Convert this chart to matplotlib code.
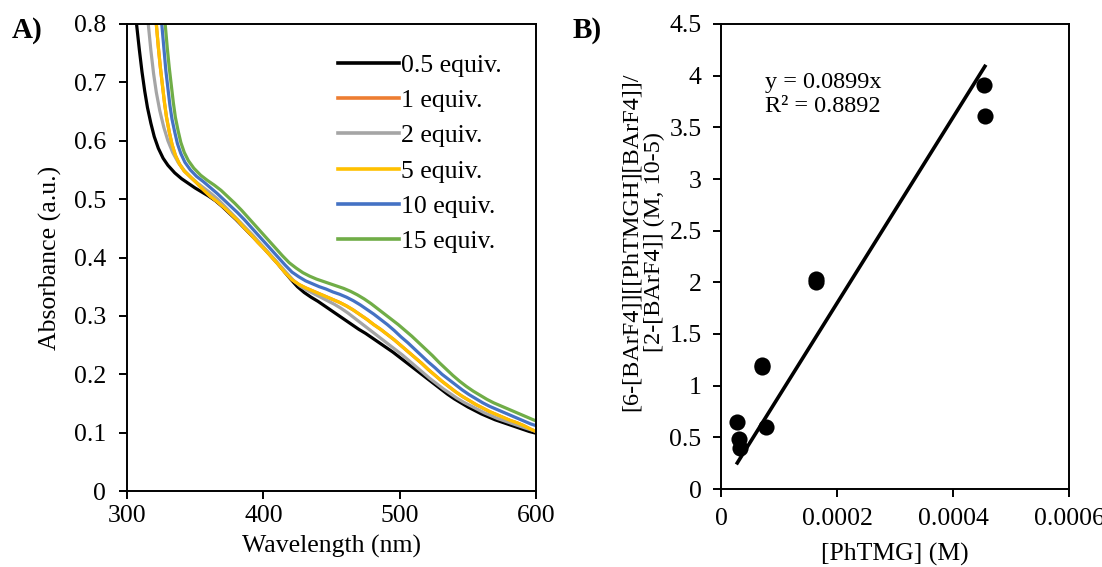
import matplotlib
matplotlib.use("Agg")
import matplotlib.pyplot as plt
import numpy as np
from matplotlib.ticker import FuncFormatter, MultipleLocator

plt.rcParams['font.family'] = ['Liberation Serif', 'DejaVu Serif']

# ---------------- Panel A data (UV-Vis spectra) ----------------
series_labels = ["0.5 equiv.", "1 equiv.", "2 equiv.", "5 equiv.", "10 equiv.", "15 equiv."]
series_colors = ["#000000", "#ED7D31", "#A5A5A5", "#FFC000", "#4472C4", "#70AD47"]

wl_05 = [303, 305, 307, 309, 311, 313, 315, 317.5, 320, 323, 326.5, 330, 335, 340, 345, 350, 355,
         360, 365, 370, 375, 380, 385, 390, 395, 400, 405, 410, 415, 420, 425, 430, 435, 440, 445,
         450, 455, 460, 465, 470, 475, 480, 485, 490, 495, 500, 505, 510, 515, 520, 525, 530, 535,
         540, 545, 550, 555, 560, 565, 570, 575, 580, 585, 590, 595, 600]
abs_05 = [0.900, 0.845, 0.800, 0.757, 0.718, 0.685, 0.657, 0.630, 0.607, 0.587, 0.570, 0.558, 0.545,
          0.535, 0.527, 0.519, 0.512, 0.505, 0.497, 0.487, 0.476, 0.465, 0.453, 0.441, 0.429, 0.417,
          0.404, 0.391, 0.377, 0.363, 0.350, 0.340, 0.332, 0.325, 0.317, 0.309, 0.301, 0.293, 0.285,
          0.277, 0.270, 0.262, 0.254, 0.246, 0.238, 0.229, 0.220, 0.211, 0.202, 0.193, 0.184, 0.175,
          0.166, 0.158, 0.151, 0.144, 0.138, 0.132, 0.127, 0.122, 0.118, 0.114, 0.110, 0.106, 0.102,
          0.099]

wl_2 = [311.5, 313.5, 315.6, 317.5, 319.5, 321.5, 324, 327, 330, 333.5, 337.5, 342, 347, 352, 357,
        362, 367, 372, 377, 382, 387, 392, 397, 402, 407, 412, 417, 422, 427, 432, 437, 442, 447,
        452, 457, 462, 467, 472, 477, 482, 487, 492, 497, 502, 507, 512, 517, 522, 527, 532, 537,
        542, 547, 552, 557, 562, 567, 572, 577, 582, 587, 592, 596, 600]
abs_2 = [0.900, 0.850, 0.800, 0.755, 0.715, 0.683, 0.652, 0.623, 0.600, 0.580, 0.563, 0.549, 0.537,
         0.527, 0.518, 0.509, 0.499, 0.487, 0.475, 0.463, 0.451, 0.439, 0.426, 0.413, 0.400, 0.387,
         0.374, 0.361, 0.351, 0.344, 0.338, 0.332, 0.326, 0.320, 0.313, 0.305, 0.296, 0.287, 0.278,
         0.269, 0.260, 0.251, 0.242, 0.233, 0.223, 0.213, 0.203, 0.193, 0.184, 0.175, 0.167, 0.159,
         0.152, 0.146, 0.140, 0.134, 0.129, 0.124, 0.120, 0.116, 0.112, 0.108, 0.105, 0.102]

wl_5 = [318.5, 320, 321.5, 323, 324.5, 326, 327.5, 329, 331, 333, 335.5, 338.5, 342, 346.5, 351,
        356, 361, 366, 371, 376, 381, 386, 391, 396, 401, 406, 411, 416, 421, 426, 431, 436, 441,
        446, 451, 456, 461, 466, 471, 476, 481, 486, 491, 496, 501, 506, 511, 516, 521, 526, 531,
        536, 541, 546, 551, 556, 561, 566, 571, 576, 581, 586, 591, 596, 600]
abs_5 = [0.900, 0.850, 0.800, 0.760, 0.725, 0.695, 0.665, 0.640, 0.615, 0.594, 0.575, 0.560, 0.548,
         0.538, 0.528, 0.516, 0.505, 0.496, 0.486, 0.475, 0.464, 0.451, 0.439, 0.426, 0.414, 0.401,
         0.388, 0.374, 0.362, 0.354, 0.348, 0.343, 0.338, 0.333, 0.328, 0.323, 0.317, 0.310, 0.302,
         0.294, 0.285, 0.277, 0.268, 0.259, 0.249, 0.239, 0.229, 0.219, 0.208, 0.198, 0.188, 0.179,
         0.170, 0.162, 0.155, 0.148, 0.142, 0.136, 0.131, 0.126, 0.121, 0.117, 0.112, 0.106, 0.102]

# 1 equiv. lies under the 5 equiv. trace
wl_1 = [318.5, 320, 321.5, 323, 324.5, 326, 327.5, 329, 331, 333, 335.5, 338.5, 342, 346.5, 351,
        356, 361, 366, 371, 376, 381, 386, 391, 396, 401, 406, 411, 416, 421, 426, 431, 436, 441,
        446, 451, 456, 461, 466, 471, 476, 481, 486, 491, 496, 501, 506, 511, 516, 521, 526, 531,
        536, 541, 546, 551, 556, 561, 566, 571, 576, 581, 586, 591, 596, 600]
abs_1 = [0.900, 0.850, 0.800, 0.760, 0.725, 0.695, 0.665, 0.640, 0.615, 0.594, 0.575, 0.560, 0.548,
         0.538, 0.528, 0.516, 0.505, 0.496, 0.486, 0.475, 0.464, 0.451, 0.439, 0.426, 0.414, 0.401,
         0.388, 0.374, 0.362, 0.354, 0.348, 0.343, 0.338, 0.333, 0.328, 0.323, 0.317, 0.310, 0.302,
         0.294, 0.285, 0.277, 0.268, 0.259, 0.249, 0.239, 0.229, 0.219, 0.208, 0.198, 0.188, 0.179,
         0.170, 0.162, 0.155, 0.148, 0.142, 0.136, 0.131, 0.126, 0.121, 0.117, 0.112, 0.106, 0.102]

wl_10 = [322, 324, 325.5, 327, 328.5, 330, 331.5, 333, 335, 337, 339.5, 342.5, 346.5, 351, 356, 361,
         366, 371, 376, 381, 386, 391, 396, 401, 406, 411, 416, 421, 426, 431, 436, 441, 446, 451,
         456, 461, 466, 471, 476, 481, 486, 491, 496, 501, 506, 511, 516, 521, 526, 531, 536, 541,
         546, 551, 556, 561, 566, 571, 576, 581, 586, 591, 596, 600]
abs_10 = [0.920, 0.855, 0.800, 0.760, 0.720, 0.690, 0.660, 0.637, 0.615, 0.595, 0.578, 0.563, 0.550,
          0.539, 0.530, 0.520, 0.510, 0.499, 0.488, 0.477, 0.465, 0.452, 0.439, 0.426, 0.413, 0.400,
          0.387, 0.375, 0.367, 0.360, 0.355, 0.350, 0.346, 0.341, 0.337, 0.332, 0.326, 0.319, 0.311,
          0.303, 0.294, 0.285, 0.275, 0.264, 0.254, 0.243, 0.232, 0.221, 0.211, 0.200, 0.191, 0.182,
          0.173, 0.165, 0.158, 0.151, 0.145, 0.140, 0.135, 0.130, 0.125, 0.120, 0.115, 0.112]

wl_15 = [324.5, 326.5, 328, 329.5, 331, 332.5, 334, 335.5, 337.5, 339.5, 342, 345, 349, 354, 359, 364,
         369, 374, 379, 384, 389, 394, 399, 404, 409, 414, 419, 424, 429, 434, 439, 444, 449, 454,
         459, 464, 469, 474, 479, 484, 489, 494, 499, 504, 509, 514, 519, 524, 529, 534, 539, 544,
         549, 554, 559, 564, 569, 574, 579, 584, 589, 594, 600]
abs_15 = [0.920, 0.855, 0.800, 0.760, 0.725, 0.695, 0.665, 0.640, 0.617, 0.597, 0.580, 0.566, 0.553,
          0.541, 0.532, 0.524, 0.515, 0.504, 0.493, 0.481, 0.468, 0.455, 0.442, 0.429, 0.416, 0.403,
          0.391, 0.382, 0.374, 0.368, 0.363, 0.359, 0.355, 0.351, 0.347, 0.342, 0.336, 0.329, 0.321,
          0.312, 0.303, 0.294, 0.285, 0.275, 0.265, 0.254, 0.243, 0.232, 0.220, 0.209, 0.198, 0.188,
          0.179, 0.171, 0.164, 0.157, 0.151, 0.146, 0.141, 0.136, 0.131, 0.126, 0.120]

spectra = [(wl_05, abs_05), (wl_1, abs_1), (wl_2, abs_2), (wl_5, abs_5), (wl_10, abs_10), (wl_15, abs_15)]

# ---------------- Panel B data ----------------
phtmg_conc = [0.0000281, 0.0000310, 0.0000328, 0.0000776, 0.0000712, 0.0000712,
              0.000164, 0.000164, 0.000453, 0.000455]
ratio_vals = [0.65, 0.48, 0.40, 0.60, 1.18, 1.20, 2.00, 2.03, 3.91, 3.61]
fit_slope = 0.0899      # per 1e-5 M
fit_r2 = 0.8892
x_unit = 1e-5

FS = 18.5

fig = plt.figure(figsize=(11.02, 5.67), dpi=100)

# ---------- Panel A ----------
axA = fig.add_axes([127/1102, 1-491/567, (536-127)/1102, (491-24)/567])
for (wl, ab), c, lab in zip(spectra, series_colors, series_labels):
    axA.plot(wl, ab, color=c, lw=2.3, label=lab, solid_joinstyle='round')
axA.set_xlim(300, 600)
axA.set_ylim(0, 0.8)
axA.xaxis.set_major_locator(MultipleLocator(100))
axA.yaxis.set_major_locator(MultipleLocator(0.1))
axA.yaxis.set_major_formatter(FuncFormatter(lambda v, p: f"{v:.1f}" if v > 0 else "0"))
axA.tick_params(axis='y', direction='out', length=6, width=1.4, labelsize=FS, pad=9)
axA.tick_params(axis='x', direction='out', length=6, width=1.4, labelsize=FS, pad=4)
for s in axA.spines.values():
    s.set_linewidth(1.4)
axA.set_xlabel("Wavelength (nm)", fontsize=FS)
axA.set_ylabel("Absorbance (a.u.)", fontsize=FS)
axA.xaxis.set_label_coords(0.5, -0.095)
axA.yaxis.set_label_coords(-0.16, 0.5)
leg = axA.legend(loc='upper left', bbox_to_anchor=(0.515, 0.935), frameon=False, fontsize=FS,
                 handlelength=2.4, handletextpad=0.05, labelspacing=0.47, borderpad=0, borderaxespad=0)
for h in leg.get_lines():
    h.set_linewidth(2.6)

# ---------- Panel B ----------
axB = fig.add_axes([721/1102, 1-489/567, 348/1102, 465/567])
xs = np.array(phtmg_conc)
axB.scatter(xs, ratio_vals, s=135, color='black', zorder=3, linewidths=0)
xline = np.array([xs.min(), xs.max()])
axB.plot(xline, fit_slope * xline / x_unit, color='black', lw=2.6, zorder=2)
axB.set_xlim(0, 0.0006)
axB.set_ylim(0, 4.5)
axB.xaxis.set_major_locator(MultipleLocator(0.0002))
axB.yaxis.set_major_locator(MultipleLocator(0.5))
axB.xaxis.set_major_formatter(FuncFormatter(lambda v, p: "0" if abs(v) < 1e-12 else f"{v:.4f}"))
axB.yaxis.set_major_formatter(FuncFormatter(lambda v, p: f"{v:g}"))
axB.tick_params(axis='y', direction='out', length=6, width=1.4, labelsize=FS, pad=8)
axB.tick_params(axis='x', direction='out', length=6, width=1.4, labelsize=FS, pad=8)
for s in axB.spines.values():
    s.set_linewidth(1.4)
axB.set_xlabel("[PhTMG] (M)", fontsize=FS)
axB.xaxis.set_label_coords(0.5, -0.115)
axB.text(0.0000759, 3.93, f"y = {fit_slope}x", fontsize=17.5, va='center', ha='left')
axB.text(0.0000759, 3.70, f"R² = {fit_r2}", fontsize=17.5, va='center', ha='left')

fig.text(643/1102, 1-242/567, "[6-[BArF4]][[PhTMGH][BArF4]]/\n[2-[BArF4]] (M, 10-5)",
         rotation=90, ha='center', va='center', fontsize=17.5, multialignment='center', linespacing=1.12)

fig.text(12/1102, 1-31/567, "A)", fontsize=21, fontweight='bold', va='center', ha='left')
fig.text(573/1102, 1-31/567, "B)", fontsize=21, fontweight='bold', va='center', ha='left')

fig.savefig("out.png", dpi=100)
